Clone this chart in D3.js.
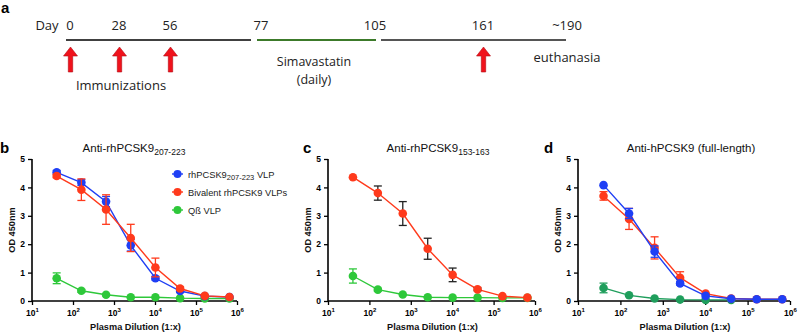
<!DOCTYPE html>
<html>
<head>
<meta charset="utf-8">
<script src="https://cdn.jsdelivr.net/npm/d3@7"></script>
<style>
  body { margin: 0; background: #fff; }
  svg { display: block; }
</style>
</head>
<body>
<svg id="fig" width="800" height="333"></svg>
<script>
// timeline (panel a)
const dayLabels = ["0", "28", "56", "77", "105", "161", "~190"];
const dayValues = [0, 28, 56, 77, 105, 161, 190];
const immunizationDays = [0, 28, 56, 161];

// ELISA curves (panels b-d)
const dilutions = [40, 160, 640, 2560, 10240, 40960, 163840, 655360];
const xTicks = [1, 2, 3, 4, 5, 6];
const yTicks = [0, 1, 2, 3, 4, 5];

const bMono = [4.53, 4.17, 3.5, 1.96, 0.8, 0.35, 0.17, 0.14];
const bMonoErr = [0.06, 0.1, 0.18, 0.2, 0.06, 0.05, 0.03, 0.02];
const bBiv = [4.4, 3.92, 3.22, 2.22, 1.18, 0.44, 0.18, 0.14];
const bBivErr = [0.06, 0.38, 0.52, 0.48, 0.33, 0.06, 0.03, 0.02];
const bQb = [0.8, 0.36, 0.22, 0.13, 0.13, 0.1, 0.09, 0.09];
const bQbErr = [0.19, 0.05, 0.03, 0.02, 0.02, 0.01, 0.01, 0.01];

const cBiv = [4.36, 3.8, 3.08, 1.84, 0.92, 0.41, 0.17, 0.12];
const cBivErr = [0.04, 0.25, 0.42, 0.37, 0.24, 0.05, 0.03, 0.02];
const cQb = [0.88, 0.4, 0.23, 0.13, 0.12, 0.12, 0.11, 0.11];
const cQbErr = [0.25, 0.05, 0.03, 0.02, 0.02, 0.01, 0.01, 0.01];

const dMono = [4.08, 3.08, 1.74, 0.62, 0.18, 0.08, 0.06, 0.06];
const dMonoErr = [0.04, 0.18, 0.2, 0.06, 0.04, 0.02, 0.01, 0.01];
const dBiv = [3.7, 2.89, 1.87, 0.82, 0.26, 0.09, 0.06, 0.06];
const dBivErr = [0.15, 0.37, 0.39, 0.21, 0.04, 0.02, 0.01, 0.01];
const dQb = [0.46, 0.2, 0.09, 0.05, 0.04, 0.04];
const dQbErr = [0.17, 0.04, 0.02, 0.01, 0.01, 0.01];

const BLUE = "#1f3ff5", RED = "#ff3a1c", GREEN = "#2ec83a", TEAL = "#1f9e5c";

const svg = d3.select("#fig");
const sans = "'Liberation Sans', Arial, sans-serif";
const calibri = "'Open Sans', 'Noto Sans', sans-serif";

// ---------- panel a ----------
const a = svg.append("g");
a.append("text").attr("x", 1).attr("y", 13).attr("font-family", sans)
  .attr("font-weight", "bold").attr("font-size", 15).text("a");

// day labels are not evenly spaced in the figure, so use a piecewise scale
const tl = d3.scaleLinear().domain(dayValues).range([70, 119, 170, 261, 375, 483, 567]);

a.append("text").attr("x", 47).attr("y", 30).attr("text-anchor", "middle")
  .attr("font-family", calibri).attr("font-size", 13).attr("fill", "#222").text("Day");
a.selectAll(".day").data(dayValues).join("text")
  .attr("x", d => tl(d)).attr("y", 30).attr("text-anchor", "middle")
  .attr("font-family", calibri).attr("font-size", 13).attr("fill", "#222")
  .text((d, i) => dayLabels[i]);

const segs = [
  { x1: 66, x2: 251, color: "#404040" },
  { x1: 257, x2: 376, color: "#3c7a2a" },
  { x1: 381, x2: 566, color: "#555" }
];
a.selectAll(".seg").data(segs).join("line")
  .attr("x1", d => d.x1).attr("x2", d => d.x2)
  .attr("y1", 40).attr("y2", 40)
  .attr("stroke", d => d.color).attr("stroke-width", 2);

const arrow = "M0,0 L7,9 L2.2,9 L2.2,25 L-2.2,25 L-2.2,9 L-7,9 Z";
a.selectAll(".arrow").data(immunizationDays).join("path")
  .attr("d", arrow)
  .attr("transform", d => `translate(${tl(d) + 0.5},47)`)
  .attr("fill", "#f0121c").attr("stroke", "#b30d14").attr("stroke-width", 0.6);

a.append("text").attr("x", 121).attr("y", 90).attr("text-anchor", "middle")
  .attr("font-family", calibri).attr("font-size", 13).attr("fill", "#222").text("Immunizations");
a.append("text").attr("x", 314).attr("y", 66).attr("text-anchor", "middle")
  .attr("font-family", calibri).attr("font-size", 12.5).attr("fill", "#222").text("Simavastatin");
a.append("text").attr("x", 314).attr("y", 84).attr("text-anchor", "middle")
  .attr("font-family", calibri).attr("font-size", 12.5).attr("fill", "#222").text("(daily)");
a.append("text").attr("x", 567).attr("y", 62).attr("text-anchor", "middle")
  .attr("font-family", calibri).attr("font-size", 13).attr("fill", "#222").text("euthanasia");

// ---------- ELISA panels ----------
function panel(opt) {
  const g = svg.append("g");
  const x = d3.scaleLog().domain([10, 1e6]).range([opt.x0, opt.x1]);
  const y = d3.scaleLinear().domain([0, 5]).range([301, 159]);

  g.append("text").attr("x", opt.letterX).attr("y", 153).attr("font-family", sans)
    .attr("font-weight", "bold").attr("font-size", 15).text(opt.letter);

  const title = g.append("text").attr("x", opt.titleX).attr("y", 152)
    .attr("text-anchor", "middle").attr("font-family", sans).attr("font-size", 11.5)
    .attr("fill", "#111").text(opt.title);
  if (opt.sub) title.append("tspan").attr("font-size", 8.5).attr("dy", 3).text(opt.sub);

  // y axis
  const yAxis = g.append("g").attr("transform", `translate(${opt.x0},0)`)
    .call(d3.axisLeft(y).tickValues(yTicks).tickFormat(d3.format("d")).tickSize(4).tickPadding(3));
  yAxis.select(".domain").attr("stroke", "#000").attr("stroke-width", 1.6)
    .attr("d", `M0,${y(0)}V${y(5)}`);
  yAxis.selectAll(".tick line").attr("stroke", "#000").attr("stroke-width", 1.3);
  yAxis.selectAll(".tick text").attr("font-family", sans).attr("font-weight", "bold")
    .attr("font-size", 8.5).attr("fill", "#000");

  // x axis
  const xAxis = g.append("g").attr("transform", `translate(0,${y(0)})`)
    .call(d3.axisBottom(x).tickValues(xTicks.map(e => Math.pow(10, e)))
      .tickSize(4).tickPadding(4).tickFormat(""));
  xAxis.select(".domain").attr("stroke", "#000").attr("stroke-width", 1.6)
    .attr("d", `M${opt.x0},0H${opt.x1}`);
  xAxis.selectAll(".tick line").attr("stroke", "#000").attr("stroke-width", 1.3);
  xAxis.selectAll(".tick").each(function (d) {
    const tx = d3.select(this).append("text").attr("y", 15).attr("text-anchor", "middle")
      .attr("font-family", sans).attr("font-weight", "bold").attr("font-size", 8.5)
      .attr("fill", "#000").text("10");
    tx.append("tspan").attr("font-size", 6).attr("dy", -4).text(Math.round(Math.log10(d)));
  });

  g.append("text").attr("x", (opt.x0 + opt.x1) / 2 + 1).attr("y", 330)
    .attr("text-anchor", "middle").attr("font-family", sans).attr("font-weight", "bold")
    .attr("font-size", 9.2).attr("fill", "#111").text("Plasma Dilution (1:x)");
  g.append("text").attr("transform", `translate(${opt.x0 - 17},${y(2.5)}) rotate(-90)`)
    .attr("text-anchor", "middle").attr("font-family", sans).attr("font-weight", "bold")
    .attr("font-size", 9.2).attr("fill", "#111").text("OD 450nm");

  const line = d3.line().x(d => x(d.x)).y(d => y(d.y));
  opt.series.forEach(s => {
    const pts = s.values.map((v, i) => ({ x: dilutions[i], y: v, e: s.err[i] }));
    const sg = g.append("g");
    sg.append("path").datum(pts).attr("d", line).attr("fill", "none")
      .attr("stroke", s.color).attr("stroke-width", 1.4);
    const eb = sg.selectAll(".eb").data(pts.filter(p => p.e > 0.04)).join("g")
      .attr("stroke", s.errColor || s.color).attr("stroke-width", 1.3);
    eb.append("line").attr("x1", p => x(p.x)).attr("x2", p => x(p.x))
      .attr("y1", p => y(p.y + p.e)).attr("y2", p => y(p.y - p.e));
    eb.append("line").attr("x1", p => x(p.x) - 4).attr("x2", p => x(p.x) + 4)
      .attr("y1", p => y(p.y + p.e)).attr("y2", p => y(p.y + p.e));
    eb.append("line").attr("x1", p => x(p.x) - 4).attr("x2", p => x(p.x) + 4)
      .attr("y1", p => y(p.y - p.e)).attr("y2", p => y(p.y - p.e));
    sg.selectAll("circle").data(pts).join("circle")
      .attr("cx", p => x(p.x)).attr("cy", p => y(p.y)).attr("r", 4.3)
      .attr("fill", s.color);
  });
  return g;
}

panel({
  letter: "b", letterX: 0, x0: 32, x1: 237, titleX: 134,
  title: "Anti-rhPCSK9", sub: "207-223",
  series: [
    { values: bQb, err: bQbErr, color: GREEN },
    { values: bMono, err: bMonoErr, color: BLUE },
    { values: bBiv, err: bBivErr, color: RED }
  ]
});

panel({
  letter: "c", letterX: 303, x0: 328, x1: 535, titleX: 438,
  title: "Anti-rhPCSK9", sub: "153-163",
  series: [
    { values: cQb, err: cQbErr, color: GREEN },
    { values: cBiv, err: cBivErr, color: RED, errColor: "#222" }
  ]
});

panel({
  letter: "d", letterX: 544, x0: 578, x1: 790, titleX: 691,
  title: "Anti-hPCSK9 (full-length)",
  series: [
    { values: dQb, err: dQbErr, color: TEAL },
    { values: dBiv, err: dBivErr, color: RED },
    { values: dMono, err: dMonoErr, color: BLUE }
  ]
});

// legend in panel b
const legendNames = ["rhPCSK9", "Bivalent rhPCSK9 VLPs", "Q\u00df VLP"];
const legendColors = [BLUE, RED, GREEN];
const lg = svg.append("g").attr("transform", "translate(172,174)");
const row = lg.selectAll("g").data(legendNames).join("g")
  .attr("transform", (d, i) => `translate(0,${i * 18})`);
row.append("line").attr("x1", 0).attr("x2", 11).attr("stroke", (d, i) => legendColors[i])
  .attr("stroke-width", 1.4);
row.append("circle").attr("cx", 5.5).attr("r", 4).attr("fill", (d, i) => legendColors[i]);
const lt = row.append("text").attr("x", 16).attr("y", 3.5).attr("font-family", sans)
  .attr("font-size", 9.3).attr("fill", "#222").text(d => d);
lt.filter((d, i) => i === 0).append("tspan").attr("font-size", 7.5).attr("dy", 2.5).text("207-223");
lt.filter((d, i) => i === 0).append("tspan").attr("dy", -2.5).text(" VLP");
</script>
</body>
</html>
